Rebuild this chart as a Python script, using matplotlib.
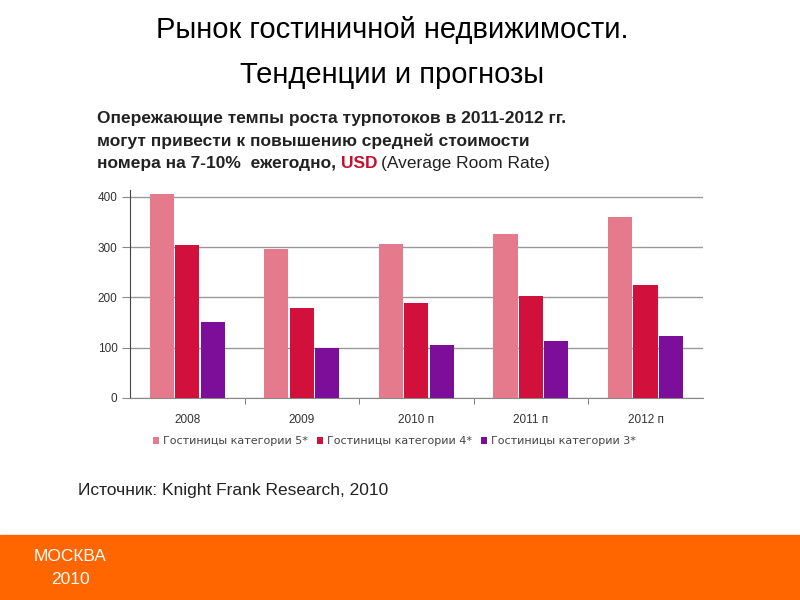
import matplotlib.pyplot as plt
import numpy as np
from matplotlib.patches import Rectangle

plt.rcParams['font.family'] = ['Liberation Sans', 'DejaVu Sans']

years = ['2008', '2009', '2010 п', '2011 п', '2012 п']
series = ['Гостиницы категории 5*', 'Гостиницы категории 4*', 'Гостиницы категории 3*']
cat5 = [405, 297, 305, 326, 360]
cat4 = [303, 179, 188, 203, 225]
cat3 = [150, 100, 105, 113, 123]
colors = ['#E57A8D', '#D2103C', '#7D0E9A']

fig = plt.figure(figsize=(8, 6), dpi=100)

# title
fig.text(0.49, 0.95, 'Рынок гостиничной недвижимости.', ha='center', va='center', fontsize=21)
fig.text(0.49, 0.875, 'Тенденции и прогнозы', ha='center', va='center', fontsize=21)

# subtitle
sub = dict(fontsize=12.5, fontweight='bold', color='#222222', va='center')
fig.text(0.121, 0.803, 'Опережающие темпы роста турпотоков в 2011-2012 гг.', **sub)
fig.text(0.121, 0.765, 'могут привести к повышению средней стоимости', **sub)
t = fig.text(0.121, 0.727, 'номера на 7-10%  ежегодно, ', **sub)
fig.canvas.draw()
bb = t.get_window_extent().transformed(fig.transFigure.inverted())
t2 = fig.text(bb.x1, 0.727, 'USD', fontsize=12.5, fontweight='bold', color='#C8102E', va='center')
fig.canvas.draw()
bb2 = t2.get_window_extent().transformed(fig.transFigure.inverted())
fig.text(bb2.x1 + 0.005, 0.727, '(Average Room Rate)', fontsize=12.5, color='#222222', va='center')

ax = fig.add_axes([0.1625, 0.337, 0.716, 0.346])
x = np.arange(len(years))
w = 0.21
for i, (vals, c, name) in enumerate(zip([cat5, cat4, cat3], colors, series)):
    ax.bar(x + (i - 1) * 0.222, vals, w, color=c, label=name, zorder=3)

ax.set_xlim(-0.5, len(years) - 0.5)
ax.set_ylim(0, 413)
ax.set_yticks([0, 100, 200, 300, 400])
ax.yaxis.grid(True, color='#999999', linewidth=1)
ax.set_axisbelow(True)
for s in ['top', 'right']:
    ax.spines[s].set_visible(False)
ax.spines['bottom'].set_color('#888888')
ax.spines['left'].set_color('#444444')
ax.tick_params(axis='y', length=6, color='#888888', labelsize=8.5, labelcolor='#333333', pad=3)
ax.set_xticks(x)
ax.set_xticklabels(years, fontsize=8.5, color='#333333')
ax.tick_params(axis='x', length=0, pad=12)
ax.set_xticks(np.arange(0.5, len(years) - 0.5, 1), minor=True)
ax.tick_params(axis='x', which='minor', length=4, color='#666666')

ax.legend(loc='center', bbox_to_anchor=(0.462, -0.21), ncol=3, frameon=False,
          prop={'family': 'DejaVu Sans', 'size': 8}, labelcolor='#444444',
          handlelength=0.5, handleheight=0.5, handletextpad=0.4,
          columnspacing=0.8)

fig.text(0.097, 0.183, 'Источник: Knight Frank Research, 2010', fontsize=12.5,
         color='#222222', va='center')

# footer band
fig.patches.append(Rectangle((0, 0), 1, 0.108, transform=fig.transFigure,
                             color='#FF6600', zorder=0))
fig.text(0.088, 0.072, 'МОСКВА', ha='center', va='center', color='white', fontsize=12.5)
fig.text(0.088, 0.035, '2010', ha='center', va='center', color='white', fontsize=12.5)

fig.savefig('out.png', dpi=100)
